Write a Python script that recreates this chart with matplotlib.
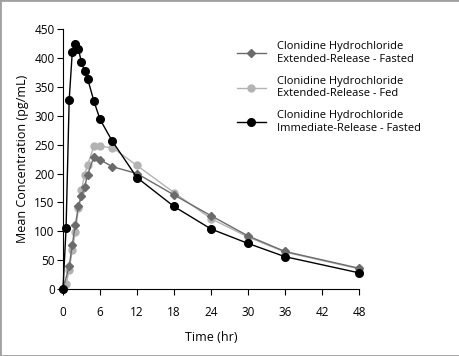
import matplotlib.pyplot as plt
from matplotlib.patches import Rectangle

plt.rcParams['font.family'] = ['Open Sans', 'DejaVu Sans']

# Clonidine ER - fasted (dark grey diamonds)
t_er_fasted = [0, 1, 1.5, 2, 2.5, 3, 3.5, 4, 5, 6, 8, 12, 18, 24, 30, 36, 48]
c_er_fasted = [0, 39, 76, 111, 143, 161, 177, 198, 229, 224, 212, 200, 163, 127, 92, 65, 36]

# Clonidine ER - fed (light grey circles)
t_er_fed = [0, 0.5, 1, 1.5, 2, 2.5, 3, 3.5, 4, 5, 6, 8, 12, 18, 24, 30, 36, 48]
c_er_fed = [0, 8, 33, 67, 99, 140, 172, 198, 215, 247, 247, 245, 214, 167, 122, 90, 64, 35]

# Clonidine IR - fasted (black circles)
t_ir_fasted = [0, 0.5, 1, 1.5, 2, 2.5, 3, 3.5, 4, 5, 6, 8, 12, 18, 24, 30, 36, 48]
c_ir_fasted = [0, 106, 327, 410, 424, 415, 393, 377, 364, 326, 294, 256, 193, 143, 104, 79, 56, 28]

labels = ['Clonidine Hydrochloride\nExtended-Release - Fasted',
          'Clonidine Hydrochloride\nExtended-Release - Fed',
          'Clonidine Hydrochloride\nImmediate-Release - Fasted']
x_ticks = [0, 6, 12, 18, 24, 30, 36, 42, 48]
y_ticks = [0, 50, 100, 150, 200, 250, 300, 350, 400, 450]

fig = plt.figure(figsize=(4.6, 3.56), dpi=100)
ax = fig.add_axes([63 / 460, 1 - 289 / 356, 296 / 460, 259.7 / 356])

ax.plot(t_er_fasted, c_er_fasted, color='#6b6b6b', lw=1, marker='D', ms=4,
        clip_on=False, label=labels[0], zorder=3)
ax.plot(t_er_fed, c_er_fed, color='#b3b3b3', lw=1, marker='o', ms=5,
        clip_on=False, label=labels[1], zorder=2)
ax.plot(t_ir_fasted, c_ir_fasted, color='black', lw=1, marker='o', ms=5.5,
        clip_on=False, label=labels[2], zorder=4)

ax.set_xlim(0, 48)
ax.set_ylim(0, 450)
ax.set_xticks(x_ticks)
ax.set_yticks(y_ticks)
ax.spines['top'].set_visible(False)
ax.spines['right'].set_visible(False)
ax.tick_params(axis='both', labelsize=8.5, direction='out', length=4, color='black')
ax.tick_params(axis='x', pad=8)
ax.tick_params(axis='y', pad=2)
ax.set_xlabel('Time (hr)', fontsize=9, labelpad=9)
ax.set_ylabel('Mean Concentration (pg/mL)', fontsize=9, labelpad=4)

fig.legend(loc='upper left', bbox_to_anchor=(227 / 460, 1 - 31 / 356), frameon=False,
           fontsize=8, handlelength=2.6, handletextpad=1.0, labelspacing=1.0)

fig.patches.append(Rectangle((0, 0), 1, 1, transform=fig.transFigure, fill=False,
                             edgecolor='#a0a0a0', lw=2))

fig.savefig('out.png', dpi=100)
